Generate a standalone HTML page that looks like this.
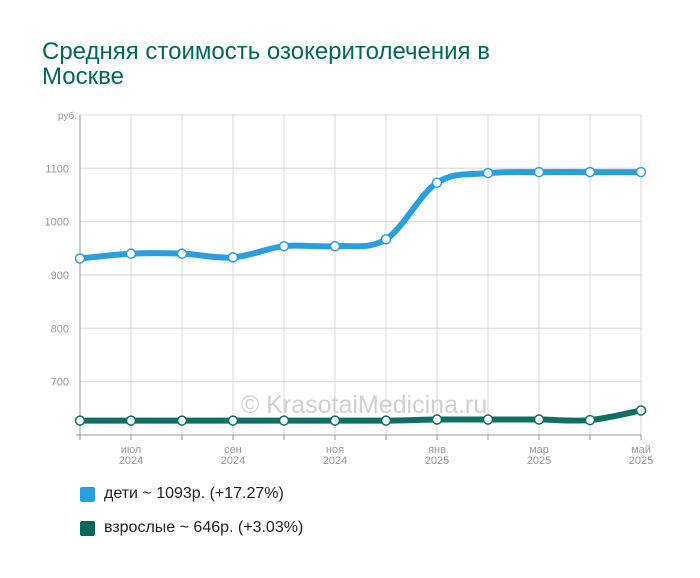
<!DOCTYPE html>
<html><head><meta charset="utf-8"><style>
body{margin:0;background:#fff;width:700px;height:578px;overflow:hidden;font-family:"Liberation Sans",sans-serif}
.title{position:absolute;left:42px;top:39px;font-size:24px;line-height:25px;color:#00695c;width:490px}
.leg{position:absolute;left:80px;font-size:16px;color:#222;display:flex;align-items:center}
.leg span.sw{width:15px;height:15px;border-radius:2px;margin-right:9px;display:inline-block}
</style></head><body>
<div class="title">Средняя стоимость озокеритолечения в Москве</div>
<svg id="chart" width="700" height="578" style="position:absolute;left:0;top:0"></svg>
<div class="leg" style="top:485px"><span class="sw" style="background:#2a9fe0"></span>дети ~ 1093р. (+17.27%)</div>
<div class="leg" style="top:519px"><span class="sw" style="background:#00695c"></span>взрослые ~ 646р. (+3.03%)</div>
<script>
const months=['','июл','','сен','','ноя','','янв','','мар','','май'];
const years=['','2024','','2024','','2024','','2025','','2025','','2025'];
const kids=[931,940,940,933,954,954,967,1073,1091,1093,1093,1093];
const adults=[627,627,627,627,627,627,627,629,629,629,628,646];
const yTicks=[700,800,900,1000,1100];
const NS='http://www.w3.org/2000/svg';
const svg=document.getElementById('chart');
const x0=80,x1=641,yMin=600,yMax=1200,yTop=115,yBot=435;
const X=i=>x0+i*(x1-x0)/(kids.length-1);
const Y=v=>yBot-(v-yMin)/(yMax-yMin)*(yBot-yTop);
function el(t,a,p){const e=document.createElementNS(NS,t);for(const k in a)e.setAttribute(k,a[k]);(p||svg).appendChild(e);return e;}
el('line',{x1:x0,x2:x1,y1:yTop,y2:yTop,stroke:'#ddd'});
yTicks.forEach(v=>{const l=el('line',{x1:x0,x2:x1,y1:Y(v),y2:Y(v),stroke:'#e2e2e2','stroke-width':1.5});

const t=el('text',{x:x0-11,y:Y(v)+4,'text-anchor':'end','font-size':11,fill:'#999'});t.textContent=v;
});
const u=el('text',{x:x0-3,y:yTop+4,'text-anchor':'end','font-size':10,fill:'#999'});u.textContent='руб.';

months.forEach((m,i)=>{if(i>0)el('line',{x1:X(i),x2:X(i),y1:yTop,y2:yBot,stroke:'#d8d8d8'});
el('line',{x1:X(i),x2:X(i),y1:yBot,y2:yBot+5,stroke:'#999'});
if(m){const t=el('text',{x:X(i),y:yBot+18,'text-anchor':'middle','font-size':11,fill:'#999'});t.textContent=m;

const t2=el('text',{x:X(i),y:yBot+29,'text-anchor':'middle','font-size':11,fill:'#999'});t2.textContent=years[i];
}});
el('line',{x1:x0,x2:x0,y1:yTop,y2:yBot,stroke:'#999'});
el('line',{x1:x0-4,x2:x1,y1:yBot,y2:yBot,stroke:'#999'});
const wm=el('text',{x:364,y:413,'text-anchor':'middle','font-size':25,fill:'#d0d0d0'});wm.textContent='© KrasotaiMedicina.ru';

function path(vals){const p=vals.map((v,i)=>[X(i),Y(v)]);let d='M'+p[0][0]+','+p[0][1];
for(let i=0;i<p.length-1;i++){const p0=p[i-1]||p[i],p1=p[i],p2=p[i+1],p3=p[i+2]||p2;
const c1=[p1[0]+(p2[0]-p0[0])/6,p1[1]+(p2[1]-p0[1])/6],c2=[p2[0]-(p3[0]-p1[0])/6,p2[1]-(p3[1]-p1[1])/6];
d+=` C${c1[0]},${c1[1]} ${c2[0]},${c2[1]} ${p2[0]},${p2[1]}`;}return d;}
[[kids,'#2a9fe0','kids'],[adults,'#0e6f63','adults']].forEach(([vals,c,n])=>{
const l=el('path',{d:path(vals),fill:'none',stroke:c,'stroke-width':6});

vals.forEach((v,i)=>{const pt=el('circle',{cx:X(i),cy:Y(v),r:4.5,fill:'#fff',stroke:c,'stroke-width':1.5});
});});
</script>
</body></html>
